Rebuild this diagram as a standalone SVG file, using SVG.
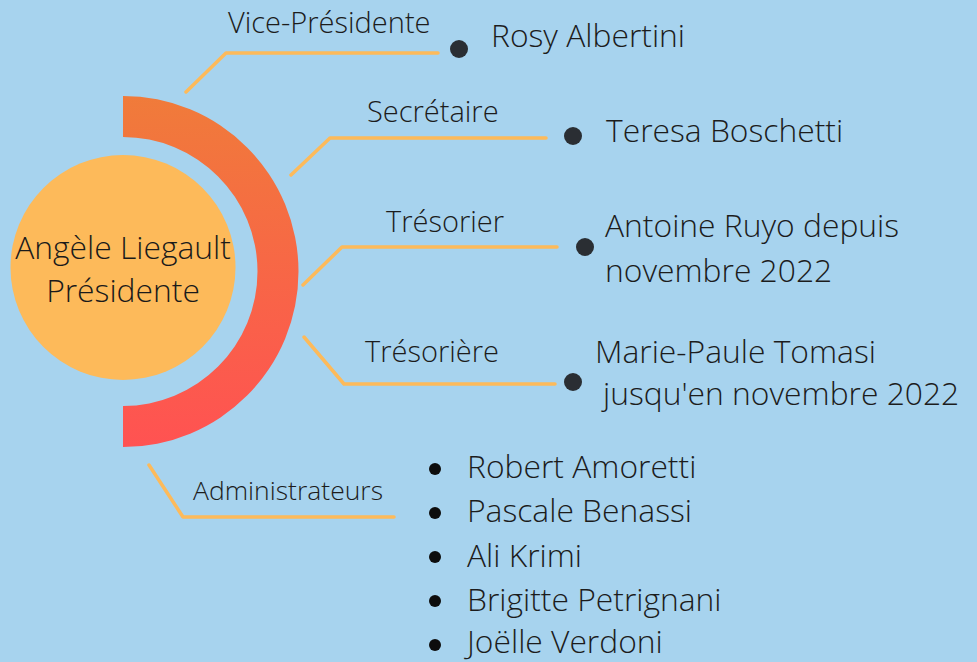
<svg xmlns="http://www.w3.org/2000/svg" width="977" height="662" viewBox="0 0 977 662">
<defs>
<linearGradient id="arcGrad" x1="0" y1="0" x2="0" y2="1">
<stop offset="0" stop-color="#F07B3A"/>
<stop offset="1" stop-color="#FF5252"/>
</linearGradient>
<style>
text{font-family:"Open Sans","Noto Sans","Liberation Sans",sans-serif;font-weight:300;fill:#1c1c1c}
.lbl{font-size:29px}
.adm{font-size:26.5px}
.name{font-size:31.8px}
.pres{font-size:31.8px;text-anchor:middle;fill:#1a1a1a}
.conn{fill:none;stroke:#FDBA5A;stroke-width:3.5;stroke-linecap:round;stroke-linejoin:round}
.dot{fill:#2A2E33}
.bul{fill:#0d0d0d}
</style>
</defs>
<rect width="977" height="662" fill="#A7D3EE"/>
<g id="president">
<path d="M123,96 A175.5,175.5 0 0 1 123,447 L123,406 A134.5,134.5 0 0 0 123,137 Z" fill="url(#arcGrad)"/>
<circle cx="123" cy="267.5" r="112.5" fill="#FDBA5A"/>
<text class="pres" x="123" y="259">Angèle Liegault</text>
<text class="pres" x="123" y="302">Présidente</text>
</g>
<g id="connectors">
<polyline class="conn" points="186,92 226,53 438,53"/>
<polyline class="conn" points="291,175 330,138 546,138"/>
<polyline class="conn" points="303,285 342,247 557,247"/>
<polyline class="conn" points="304,337 344,384 555,384"/>
<polyline class="conn" points="149,465 183,517 394,517"/>
</g>
<g id="vice-presidente">
<text class="lbl" x="228" y="33">Vice-Présidente</text>
<circle class="dot" cx="459" cy="49" r="9"/>
<text class="name" x="491" y="47">Rosy Albertini</text>
</g>
<g id="secretaire">
<text class="lbl" x="367" y="122">Secrétaire</text>
<circle class="dot" cx="573" cy="136" r="9"/>
<text class="name" x="606" y="142">Teresa Boschetti</text>
</g>
<g id="tresorier">
<text class="lbl" x="386" y="232">Trésorier</text>
<circle class="dot" cx="585" cy="247" r="9"/>
<text class="name" x="605" y="237">Antoine Ruyo depuis</text>
<text class="name" x="605" y="282">novembre 2022</text>
</g>
<g id="tresoriere">
<text class="lbl" x="365" y="362">Trésorière</text>
<circle class="dot" cx="573" cy="382" r="9"/>
<text class="name" x="595" y="363">Marie-Paule Tomasi</text>
<text class="name" x="603" y="405">jusqu'en novembre 2022</text>
</g>
<g id="administrateurs">
<text class="adm" x="193" y="500">Administrateurs</text>
<circle class="bul" cx="435" cy="469" r="6"/>
<text class="name" x="467" y="478">Robert Amoretti</text>
<circle class="bul" cx="435" cy="513" r="6"/>
<text class="name" x="467" y="522">Pascale Benassi</text>
<circle class="bul" cx="435" cy="557" r="6"/>
<text class="name" x="467" y="567">Ali Krimi</text>
<circle class="bul" cx="435" cy="601" r="6"/>
<text class="name" x="467" y="611">Brigitte Petrignani</text>
<circle class="bul" cx="435" cy="645" r="6"/>
<text class="name" x="467" y="653">Joëlle Verdoni</text>
</g>
</svg>
